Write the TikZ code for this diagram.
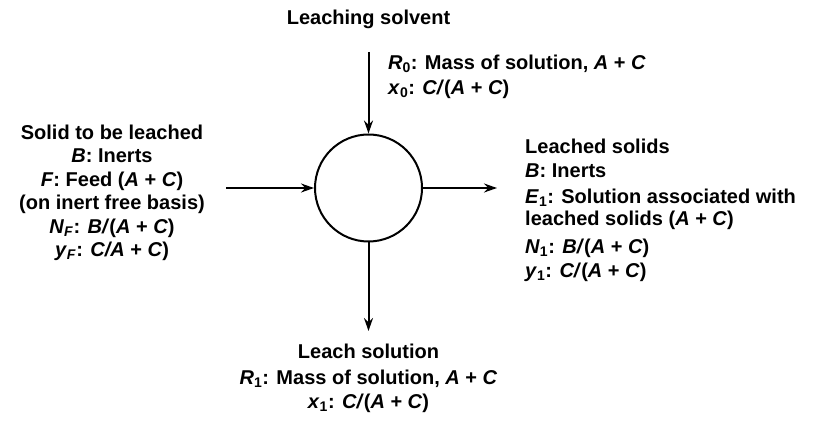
\documentclass[tikz,border=0pt]{standalone}
\usepackage{fontspec}
\setmainfont{Liberation Sans}
\usetikzlibrary{arrows.meta, positioning}

\newcommand{\vr}[1]{\textit{#1}}
\newcommand{\sub}[2]{\textit{#1}\textsubscript{#2}}

\tikzset{
	flow/.style={line width=2pt, -{Stealth[length=13pt, width=9pt]}},
	txt/.style={inner sep=0pt, font=\fontsize{20}{24}\selectfont\bfseries},
}

\begin{document}
\begin{tikzpicture}[x=1pt, y=-1pt]
	\useasboundingbox (0,0) rectangle (818,427);

	\node[draw, circle, line width=2pt, minimum size=107pt, inner sep=0pt] (tank) at (368.5,188) {};

	\coordinate (solvent) at (368.5,52);
	\coordinate (feed) at (226,188);
	\coordinate (solids) at (497,188);
	\coordinate (leach) at (368.5,331);

	\draw[flow] (solvent) -- (tank.north);
	\draw[flow] (feed) -- (tank.west);
	\draw[flow] (tank.east) -- (solids);
	\draw[flow] (tank.south) -- (leach);

	% stream labels
	\node[txt, anchor=base] (solventname) at (368.5,25) {Leaching solvent};
	\node[txt, anchor=north west, align=left] (solventdata) at (388,55)
		{\sub{R}{0}: Mass of solution, \vr{A} + \vr{C}\\[1pt]
		 \sub{x}{0}: \vr{C/}(\vr{A} + \vr{C})};

	\node[txt, anchor=north, align=center] (feeddata) at (112,125)
		{Solid to be leached\\[-1pt]
		 \vr{B}: Inerts\\
		 \vr{F}: Feed (\vr{A} + \vr{C})\\[-1pt]
		 (on inert free basis)\\
		 \textit{N}\textsubscript{\textit{F}}: \vr{B/}(\vr{A} + \vr{C})\\[-1pt]
		 \textit{y}\textsubscript{\textit{F}}: \vr{C/A} + \vr{C})};

	\node[txt, anchor=north west, align=left] (solidsdata) at (525,139)
		{Leached solids\\
		 \vr{B}: Inerts\\[2pt]
		 \sub{E}{1}: Solution associated with\\[-2pt]
		 leached solids (\vr{A} + \vr{C})\\[4pt]
		 \sub{N}{1}: \vr{B/}(\vr{A} + \vr{C})\\
		 \sub{y}{1}: \vr{C/}(\vr{A} + \vr{C})};

	\node[txt, anchor=north, align=center] (leachdata) at (368.5,344)
		{Leach solution\\[2pt]
		 \sub{R}{1}: Mass of solution, \vr{A} + \vr{C}\\
		 \sub{x}{1}: \vr{C/}(\vr{A} + \vr{C})};
\end{tikzpicture}
\end{document}
